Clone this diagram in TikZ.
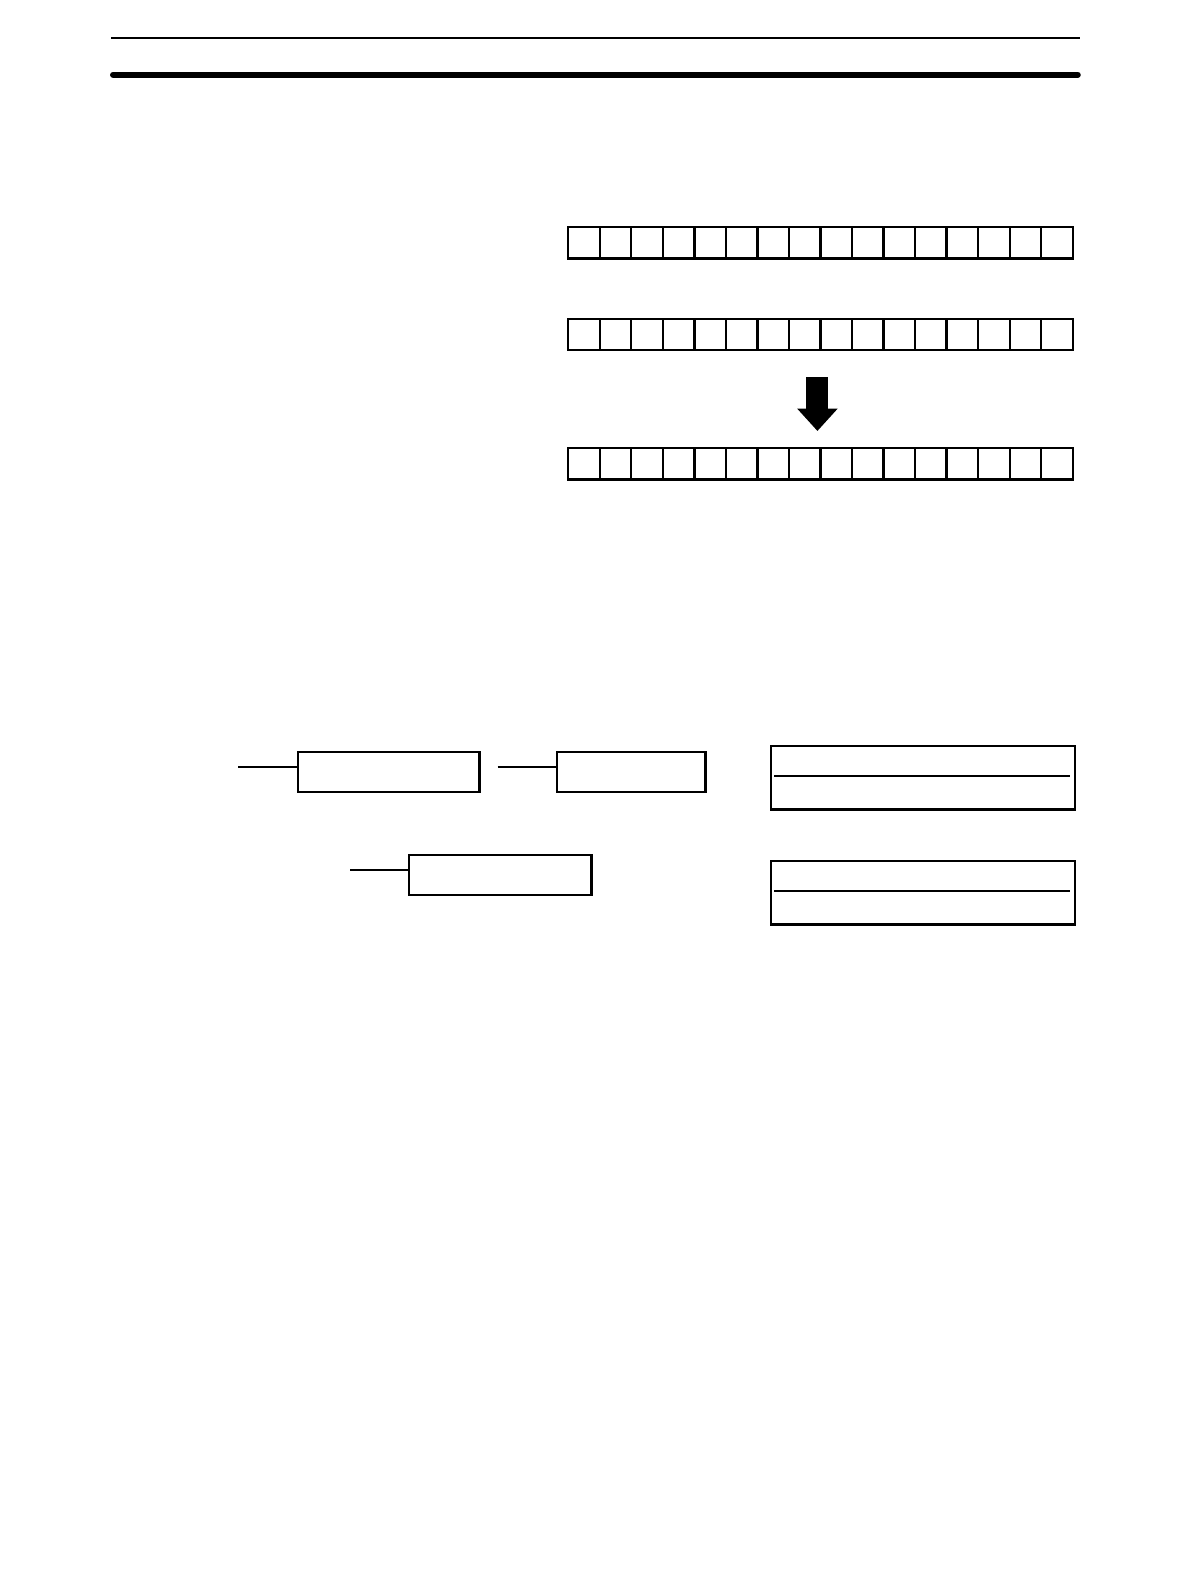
\documentclass[tikz,border=0pt]{standalone}
\begin{document}
\begin{tikzpicture}[x=1pt,y=-1pt,
  cell/.style={draw,line width=2.3pt,minimum width=31.25pt,minimum height=31pt,inner sep=0pt,anchor=north west},
  regbox/.style={draw,line width=2.3pt,minimum height=40pt,inner sep=0pt,anchor=north west},
  lead/.style={line width=2.3pt},
  tallbox/.style={draw,line width=2.3pt,minimum width=301pt,minimum height=63pt,inner sep=0pt,anchor=north west}]
\useasboundingbox (0,0) rectangle (1192,1584);
\begin{scope}[scale=1.009,transform shape]
% header rules
\coordinate (t1l) at (110,38); \coordinate (t1r) at (1070,38);
\draw[line width=2pt] (t1l) -- (t1r);
\coordinate (t2l) at (112,74); \coordinate (t2r) at (1068,74);
\draw[line width=6pt,line cap=round] (t2l) -- (t2r);
% bit rows
\foreach \r/\y in {1/224,2/315,3/443}{
  \foreach \i in {0,...,15}{
    \node[cell] (r\r c\i) at ({562+\i*31.25},\y) {};
  }
}
% arrow
\node[fill=black,inner sep=0pt,minimum width=22pt,minimum height=33pt,anchor=north] (shaft) at (810,373) {};
\coordinate (hl) at (790,405); \coordinate (hr) at (830,405); \coordinate (tip) at (810,427);
\fill (hl) -- (hr) -- (tip) -- cycle;
% left boxes
\node[regbox,minimum width=180pt] (boxA) at (294,744) {};
\node[regbox,minimum width=147pt] (boxB) at (551,744) {};
\node[regbox,minimum width=181pt] (boxC) at (404,846) {};
\coordinate (la) at (236,760); \coordinate (lb) at (493,760); \coordinate (lc) at (347,862);
\draw[lead] (la) -- (boxA.west |- la);
\draw[lead] (lb) -- (boxB.west |- lb);
\draw[lead] (lc) -- (boxC.west |- lc);
% right boxes
\node[tallbox] (R1) at (763,738) {};
\node[tallbox] (R2) at (763,852) {};
\coordinate (r1l) at (767,769); \coordinate (r1r) at (1060,769);
\coordinate (r2l) at (767,883); \coordinate (r2r) at (1060,883);
\draw[lead] (r1l) -- (r1r);
\draw[lead] (r2l) -- (r2r);
\end{scope}
\end{tikzpicture}
\end{document}
